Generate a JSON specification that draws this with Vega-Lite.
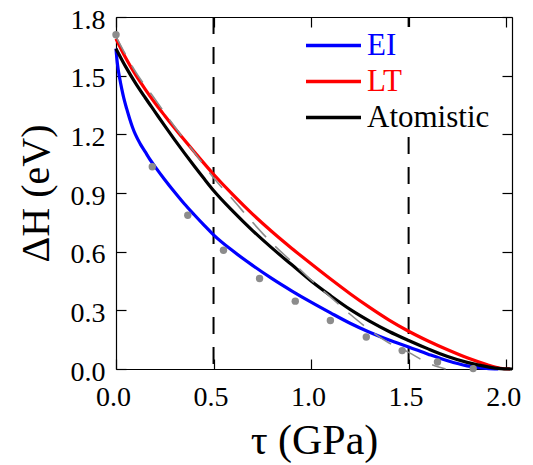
{
  "$schema": "https://vega.github.io/schema/vega-lite/v6.json",
  "width": 396,
  "height": 352,
  "autosize": {"type": "none"},
  "padding": {"left": 116, "top": 17, "right": 21, "bottom": 96},
  "background": "white",
  "config": {
    "view": {"stroke": null},
    "font": "Liberation Serif, Times New Roman, serif",
    "axis": {
      "grid": false,
      "domainColor": "black",
      "domainWidth": 1.2,
      "tickColor": "black",
      "tickWidth": 1.2,
      "tickSize": -10,
      "labelFont": "Liberation Serif, Times New Roman, serif",
      "labelFontSize": 28,
      "labelColor": "black",
      "labelFlush": false,
      "labelOverlap": false,
      "titleFont": "Liberation Serif, Times New Roman, serif",
      "titleFontWeight": "normal",
      "titleColor": "black"
    },
    "legend": {
      "labelFont": "Liberation Serif, Times New Roman, serif"
    }
  },
  "datasets": {
    "curves": [
      {"tau": 0, "dH": 1.638, "model": "EI"},
      {"tau": 0.005, "dH": 1.58, "model": "EI"},
      {"tau": 0.01, "dH": 1.54, "model": "EI"},
      {"tau": 0.02, "dH": 1.48, "model": "EI"},
      {"tau": 0.03, "dH": 1.43, "model": "EI"},
      {"tau": 0.04, "dH": 1.385, "model": "EI"},
      {"tau": 0.055, "dH": 1.33, "model": "EI"},
      {"tau": 0.07, "dH": 1.28, "model": "EI"},
      {"tau": 0.085, "dH": 1.235, "model": "EI"},
      {"tau": 0.1, "dH": 1.198, "model": "EI"},
      {"tau": 0.125, "dH": 1.15, "model": "EI"},
      {"tau": 0.15, "dH": 1.11, "model": "EI"},
      {"tau": 0.175, "dH": 1.07, "model": "EI"},
      {"tau": 0.2, "dH": 1.035, "model": "EI"},
      {"tau": 0.25, "dH": 0.968, "model": "EI"},
      {"tau": 0.3, "dH": 0.905, "model": "EI"},
      {"tau": 0.35, "dH": 0.845, "model": "EI"},
      {"tau": 0.4, "dH": 0.79, "model": "EI"},
      {"tau": 0.45, "dH": 0.737, "model": "EI"},
      {"tau": 0.5, "dH": 0.686, "model": "EI"},
      {"tau": 0.6, "dH": 0.603, "model": "EI"},
      {"tau": 0.7, "dH": 0.53, "model": "EI"},
      {"tau": 0.8, "dH": 0.462, "model": "EI"},
      {"tau": 0.9, "dH": 0.4, "model": "EI"},
      {"tau": 1.0, "dH": 0.342, "model": "EI"},
      {"tau": 1.1, "dH": 0.287, "model": "EI"},
      {"tau": 1.2, "dH": 0.234, "model": "EI"},
      {"tau": 1.3, "dH": 0.188, "model": "EI"},
      {"tau": 1.4, "dH": 0.148, "model": "EI"},
      {"tau": 1.5, "dH": 0.113, "model": "EI"},
      {"tau": 1.6, "dH": 0.076, "model": "EI"},
      {"tau": 1.7, "dH": 0.042, "model": "EI"},
      {"tau": 1.8, "dH": 0.016, "model": "EI"},
      {"tau": 1.9, "dH": 0.003, "model": "EI"},
      {"tau": 1.96, "dH": 0, "model": "EI"},
      {"tau": 0, "dH": 1.689, "model": "LT"},
      {"tau": 0.05, "dH": 1.59, "model": "LT"},
      {"tau": 0.1, "dH": 1.505, "model": "LT"},
      {"tau": 0.15, "dH": 1.43, "model": "LT"},
      {"tau": 0.2, "dH": 1.36, "model": "LT"},
      {"tau": 0.25, "dH": 1.295, "model": "LT"},
      {"tau": 0.3, "dH": 1.232, "model": "LT"},
      {"tau": 0.4, "dH": 1.112, "model": "LT"},
      {"tau": 0.5, "dH": 0.996, "model": "LT"},
      {"tau": 0.6, "dH": 0.89, "model": "LT"},
      {"tau": 0.7, "dH": 0.792, "model": "LT"},
      {"tau": 0.8, "dH": 0.702, "model": "LT"},
      {"tau": 0.9, "dH": 0.618, "model": "LT"},
      {"tau": 1.0, "dH": 0.538, "model": "LT"},
      {"tau": 1.1, "dH": 0.46, "model": "LT"},
      {"tau": 1.2, "dH": 0.385, "model": "LT"},
      {"tau": 1.3, "dH": 0.315, "model": "LT"},
      {"tau": 1.4, "dH": 0.25, "model": "LT"},
      {"tau": 1.5, "dH": 0.193, "model": "LT"},
      {"tau": 1.6, "dH": 0.143, "model": "LT"},
      {"tau": 1.7, "dH": 0.098, "model": "LT"},
      {"tau": 1.8, "dH": 0.057, "model": "LT"},
      {"tau": 1.9, "dH": 0.023, "model": "LT"},
      {"tau": 1.97, "dH": 0.004, "model": "LT"},
      {"tau": 2.02, "dH": 0.0, "model": "LT"},
      {"tau": 0, "dH": 1.638, "model": "Atomistic"},
      {"tau": 0.05, "dH": 1.545, "model": "Atomistic"},
      {"tau": 0.1, "dH": 1.462, "model": "Atomistic"},
      {"tau": 0.15, "dH": 1.387, "model": "Atomistic"},
      {"tau": 0.2, "dH": 1.315, "model": "Atomistic"},
      {"tau": 0.25, "dH": 1.243, "model": "Atomistic"},
      {"tau": 0.3, "dH": 1.173, "model": "Atomistic"},
      {"tau": 0.35, "dH": 1.105, "model": "Atomistic"},
      {"tau": 0.4, "dH": 1.039, "model": "Atomistic"},
      {"tau": 0.45, "dH": 0.975, "model": "Atomistic"},
      {"tau": 0.5, "dH": 0.913, "model": "Atomistic"},
      {"tau": 0.6, "dH": 0.806, "model": "Atomistic"},
      {"tau": 0.7, "dH": 0.708, "model": "Atomistic"},
      {"tau": 0.8, "dH": 0.618, "model": "Atomistic"},
      {"tau": 0.9, "dH": 0.534, "model": "Atomistic"},
      {"tau": 1.0, "dH": 0.45, "model": "Atomistic"},
      {"tau": 1.1, "dH": 0.375, "model": "Atomistic"},
      {"tau": 1.2, "dH": 0.305, "model": "Atomistic"},
      {"tau": 1.3, "dH": 0.245, "model": "Atomistic"},
      {"tau": 1.4, "dH": 0.192, "model": "Atomistic"},
      {"tau": 1.5, "dH": 0.146, "model": "Atomistic"},
      {"tau": 1.6, "dH": 0.103, "model": "Atomistic"},
      {"tau": 1.7, "dH": 0.064, "model": "Atomistic"},
      {"tau": 1.8, "dH": 0.034, "model": "Atomistic"},
      {"tau": 1.9, "dH": 0.012, "model": "Atomistic"},
      {"tau": 1.97, "dH": 0.002, "model": "Atomistic"},
      {"tau": 2.03, "dH": 0.0, "model": "Atomistic"}
    ],
    "fit": [
      {"tau": 0, "dH": 1.70},
      {"tau": 0.1, "dH": 1.52},
      {"tau": 0.2, "dH": 1.38},
      {"tau": 0.3, "dH": 1.24},
      {"tau": 0.4, "dH": 1.11},
      {"tau": 0.5, "dH": 0.978},
      {"tau": 0.6, "dH": 0.865},
      {"tau": 0.7, "dH": 0.75},
      {"tau": 0.8, "dH": 0.643},
      {"tau": 0.9, "dH": 0.55},
      {"tau": 1.0, "dH": 0.455},
      {"tau": 1.1, "dH": 0.368},
      {"tau": 1.2, "dH": 0.28},
      {"tau": 1.3, "dH": 0.2},
      {"tau": 1.4, "dH": 0.133},
      {"tau": 1.5, "dH": 0.085},
      {"tau": 1.6, "dH": 0.03},
      {"tau": 1.69, "dH": 0.0}
    ],
    "points": [
      {"tau": 0.0, "dH": 1.709},
      {"tau": 0.186, "dH": 1.034},
      {"tau": 0.368, "dH": 0.786},
      {"tau": 0.551, "dH": 0.607},
      {"tau": 0.736, "dH": 0.463},
      {"tau": 0.919, "dH": 0.347},
      {"tau": 1.099, "dH": 0.248},
      {"tau": 1.283, "dH": 0.164},
      {"tau": 1.467, "dH": 0.094},
      {"tau": 1.648, "dH": 0.036},
      {"tau": 1.831, "dH": 0.002}
    ],
    "vlines": [
      {"tau": 0.5},
      {"tau": 1.5}
    ]
  },
  "layer": [
    {
      "data": {"name": "vlines"},
      "mark": {"type": "rule", "color": "black", "strokeWidth": 2, "strokeDash": [17, 13]},
      "encoding": {
        "x": {
          "field": "tau", "type": "quantitative",
          "scale": {"domain": [0, 2.03], "nice": false, "zero": false},
          "axis": {"orient": "top", "labels": false, "title": null, "values": [0, 0.5, 1, 1.5, 2]}
        }
      }
    },
    {
      "data": {"name": "curves"},
      "mark": {"type": "line", "strokeWidth": 3.2, "clip": false, "interpolate": "monotone"},
      "encoding": {
        "x": {
          "field": "tau", "type": "quantitative",
          "scale": {"domain": [0, 2.03], "nice": false, "zero": false},
          "axis": {
            "orient": "bottom", "values": [0, 0.5, 1, 1.5, 2], "format": ".1f",
            "labelPadding": 24, "labelOffset": -3,
            "title": "τ  (GPa)", "titleFontSize": 42, "titlePadding": 9
          }
        },
        "y": {
          "field": "dH", "type": "quantitative",
          "scale": {"domain": [0, 1.8], "nice": false, "zero": false},
          "axis": {
            "orient": "left", "values": [0, 0.3, 0.6, 0.9, 1.2, 1.5, 1.8], "format": ".1f",
            "labelPadding": 21, "labelOffset": 3,
            "title": "ΔH (eV)", "titleFontSize": 40, "titlePadding": 14
          }
        },
        "color": {
          "field": "model", "type": "nominal",
          "scale": {"domain": ["EI", "LT", "Atomistic"], "range": ["#0000ff", "#ff0000", "#000000"]},
          "legend": {
            "orient": "none", "legendX": 199, "legendY": 10, "title": null,
            "symbolType": "M-2,0H2", "symbolStrokeWidth": 3.5, "symbolSize": 756,
            "labelFontSize": 31, "labelOffset": 18, "rowPadding": 4,
            "fillColor": "white", "padding": 3,
            "encode": {
              "labels": {"update": {"fill": {"signal": "datum.value === 'EI' ? '#0000ff' : datum.value === 'LT' ? '#ff0000' : '#000000'"}}}
            }
          }
        },
        "order": {"field": "tau", "type": "quantitative"}
      }
    },
    {
      "data": {"name": "fit"},
      "mark": {"type": "line", "color": "#8c8c8c", "strokeWidth": 1.6, "strokeDash": [20, 13], "interpolate": "monotone"},
      "encoding": {
        "x": {"field": "tau", "type": "quantitative", "axis": null},
        "y": {
          "field": "dH", "type": "quantitative",
          "axis": {"orient": "right", "labels": false, "title": null, "values": [0, 0.3, 0.6, 0.9, 1.2, 1.5, 1.8]}
        }
      }
    },
    {
      "data": {"name": "points"},
      "mark": {"type": "circle", "color": "#8c8c8c", "size": 55, "opacity": 1},
      "encoding": {
        "x": {"field": "tau", "type": "quantitative", "axis": null},
        "y": {"field": "dH", "type": "quantitative", "axis": null}
      }
    }
  ],
  "resolve": {"axis": {"x": "independent", "y": "independent"}}
}
